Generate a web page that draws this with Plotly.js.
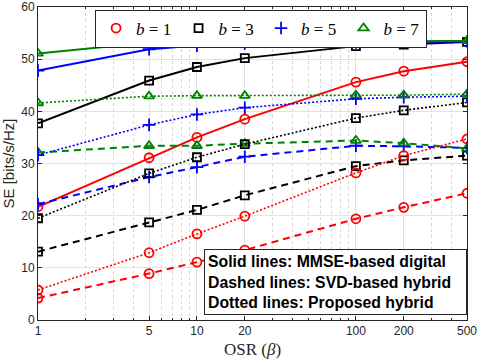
<!DOCTYPE html>
<html>
<head>
<meta charset="utf-8">
<script src="https://cdn.plot.ly/plotly-3.0.1.min.js"></script>
<style>
  html, body { margin: 0; padding: 0; background: #fff; }
  #chart { width: 479px; height: 359px; }
</style>
</head>
<body>
<div id="chart"></div>
<script>
// --- data ---
const osr = [1, 5, 10, 20, 100, 200, 500];
const bits = [1, 3, 5, 7];

// solid lines: MMSE-based digital
const mmse_b1 = [21.7, 31.1, 35.0, 38.5, 45.6, 47.7, 49.5];
const mmse_b3 = [37.7, 45.9, 48.5, 50.2, 52.5, 52.8, 53.3];
const mmse_b5 = [47.8, 51.9, 52.6, 53.0, 53.2, 53.3, 53.4];
const mmse_b7 = [51.1, 53.2, 53.4, 53.4, 53.5, 53.5, 53.5];

// dashed lines: SVD-based hybrid
const svd_b1 = [4.2, 8.9, 11.1, 13.4, 19.4, 21.6, 24.3];
const svd_b3 = [13.1, 18.7, 21.1, 23.9, 29.5, 30.6, 31.5];
const svd_b5 = [22.2, 27.4, 29.3, 31.3, 33.4, 33.3, 33.0];
const svd_b7 = [32.1, 33.4, 33.4, 33.8, 34.4, 33.9, 32.9];

// dotted lines: proposed hybrid
const prop_b1 = [5.75, 12.9, 16.5, 19.9, 28.2, 31.5, 34.7];
const prop_b3 = [19.5, 28.1, 31.2, 33.7, 38.7, 40.2, 41.7];
const prop_b5 = [31.6, 37.4, 39.4, 40.7, 42.4, 42.7, 42.9];
const prop_b7 = [41.6, 42.9, 43.0, 43.0, 43.1, 43.1, 43.3];

const xTicks = [1, 5, 10, 20, 100, 200, 500];
const xMinor = [2, 3, 4, 6, 7, 8, 9, 30, 40, 50, 60, 70, 80, 90, 300, 400];
const boxText = ['Solid lines: MMSE-based digital',
                 'Dashed lines: SVD-based hybrid',
                 'Dotted lines: Proposed hybrid'];

// --- styles ---
const colors = ['#ff0000', '#000000', '#0000ff', '#008000'];
const symbols = ['circle-open', 'square-open', 'cross-thin-open', 'triangle-up-open'];
const sizes = [9, 8, 9, 9];
const families = [
    { series: [mmse_b1, mmse_b3, mmse_b5, mmse_b7], dash: 'solid', width: 2 },
    { series: [svd_b1, svd_b3, svd_b5, svd_b7], dash: '7px,5px', width: 2 },
    { series: [prop_b1, prop_b3, prop_b5, prop_b7], dash: '2px,2px', width: 1.6 }
];

const traces = [];
families.forEach(fam => {
    fam.series.forEach((ys, i) => {
        traces.push({
            x: osr, y: ys,
            type: 'scatter', mode: 'lines+markers',
            line: { color: colors[i], width: fam.width, dash: fam.dash },
            marker: { symbol: symbols[i], size: sizes[i], color: colors[i],
                      line: { color: colors[i], width: 1.8 } },
            showlegend: false, hoverinfo: 'skip'
        });
    });
});

// legend entries: markers only
bits.forEach((b, i) => {
    traces.push({
        x: [null], y: [null],
        type: 'scatter', mode: 'markers',
        marker: { symbol: symbols[i], size: sizes[i], color: colors[i],
                  line: { color: colors[i], width: 1.8 } },
        name: '<i>b</i> = ' + b
    });
});

const axisCommon = {
    showline: true, linecolor: '#262626', linewidth: 1, mirror: 'ticks',
    ticks: 'inside', ticklen: 4, tickcolor: '#262626',
    ticklabeloverflow: 'allow',
    tickfont: { family: 'Liberation Sans, Arial, sans-serif', size: 12, color: '#262626' },
    gridcolor: '#e3e3e3', gridwidth: 1, zeroline: false
};

const layout = {
    width: 479, height: 359,
    margin: { l: 38, r: 12, t: 7, b: 39 },
    paper_bgcolor: '#ffffff', plot_bgcolor: '#ffffff',
    xaxis: Object.assign({}, axisCommon, {
        type: 'log', range: [0, Math.log10(500)],
        tickmode: 'array', tickvals: xTicks, ticktext: xTicks.map(String),
        minor: { tickmode: 'array', tickvals: xMinor, ticks: 'inside', ticklen: 2,
                 tickcolor: '#262626', showgrid: true, gridcolor: '#d6d6d6', griddash: 'dot' },
        title: { text: 'OSR (<i>β</i>)', standoff: 6,
                 font: { family: 'Liberation Serif, Times New Roman, serif', size: 17, color: '#262626' } }
    }),
    yaxis: Object.assign({}, axisCommon, {
        range: [0, 60], dtick: 10,
        title: { text: 'SE [bits/s/Hz]', standoff: 4,
                 font: { family: 'Liberation Sans, Arial, sans-serif', size: 15, color: '#262626' } }
    }),
    legend: {
        orientation: 'h', x: 0.133, xanchor: 'left', y: 0.992, yanchor: 'top',
        bgcolor: '#ffffff', bordercolor: '#262626', borderwidth: 1,
        font: { family: 'Liberation Serif, Times New Roman, serif', size: 17, color: '#000' },
        entrywidth: 37.5, itemwidth: 30, tracegroupgap: 0
    },
    annotations: [{
        xref: 'paper', yref: 'paper', x: 1, y: 0.016, xanchor: 'right', yanchor: 'bottom',
        text: boxText.map(t => '<b>' + t + '</b>').join('<br>'),
        align: 'left', showarrow: false, width: 255,
        font: { family: 'Liberation Sans, Arial, sans-serif', size: 15.8, color: '#000' },
        bgcolor: '#ffffff', bordercolor: '#262626', borderwidth: 1, borderpad: 3
    }]
};

Plotly.newPlot('chart', traces, layout, { displayModeBar: false, staticPlot: true });
</script>
</body>
</html>
